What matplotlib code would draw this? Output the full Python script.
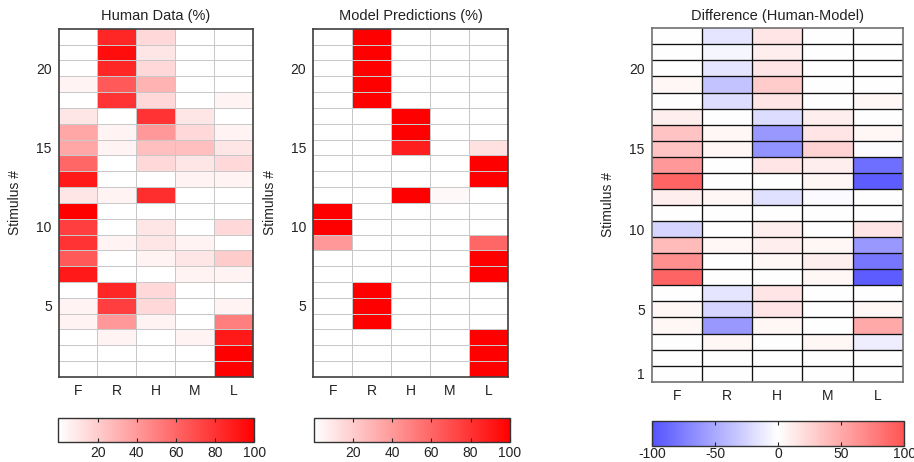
import numpy as np
import matplotlib
matplotlib.use("Agg")
import matplotlib.pyplot as plt
from matplotlib.colors import LinearSegmentedColormap

plt.rcParams['font.family'] = ['Liberation Sans', 'DejaVu Sans']
FS = 10

responses = ["F", "R", "H", "M", "L"]

# rows are stimulus 1..22, columns F R H M L (percent)
human = [
    [0, 0, 0, 0, 100],
    [0, 0, 0, 0, 100],
    [0, 5, 0, 5, 90],
    [5, 40, 5, 0, 50],
    [5, 75, 15, 0, 5],
    [0, 85, 15, 0, 0],
    [90, 0, 0, 5, 5],
    [65, 0, 5, 10, 20],
    [80, 5, 10, 5, 0],
    [75, 0, 10, 0, 15],
    [100, 0, 0, 0, 0],
    [10, 5, 82, 0, 0],
    [90, 0, 0, 5, 5],
    [60, 0, 15, 10, 15],
    [35, 5, 25, 25, 10],
    [35, 5, 40, 15, 5],
    [10, 0, 80, 10, 0],
    [0, 80, 15, 0, 5],
    [5, 65, 30, 0, 0],
    [0, 85, 15, 0, 0],
    [0, 95, 10, 0, 0],
    [0, 85, 15, 0, 0],
]

model = [
    [0, 0, 0, 0, 100],
    [0, 0, 0, 0, 100],
    [0, 0, 0, 0, 100],
    [0, 100, 0, 0, 0],
    [0, 100, 0, 0, 0],
    [0, 100, 0, 0, 0],
    [0, 0, 0, 0, 100],
    [0, 0, 0, 0, 100],
    [40, 0, 0, 0, 60],
    [100, 0, 0, 0, 0],
    [100, 0, 0, 0, 0],
    [0, 0, 100, 3, 0],
    [0, 0, 0, 0, 100],
    [0, 0, 0, 0, 100],
    [0, 0, 88, 0, 12],
    [0, 0, 100, 0, 0],
    [0, 0, 100, 0, 0],
    [0, 100, 0, 0, 0],
    [0, 100, 0, 0, 0],
    [0, 100, 0, 0, 0],
    [0, 100, 0, 0, 0],
    [0, 100, 0, 0, 0],
]

human = np.array(human, dtype=float)
model = np.array(model, dtype=float)
diff = human - model
n_stim = human.shape[0]

reds = LinearSegmentedColormap.from_list("wr", [(1, 1, 1), (1, 0, 0)])
bwr = LinearSegmentedColormap.from_list(
    "bwr2", [(0.33, 0.33, 1), (1, 1, 1), (1, 0.33, 0.33)])

fig = plt.figure(figsize=(9.14, 4.62), dpi=100)

xe = np.arange(0.5, len(responses) + 1)
ye = np.arange(0.5, n_stim + 1)


def panel(rect, data, cmap, vmin, vmax, title, edge, lw, aa, yticks, frame):
    ax = fig.add_axes(rect)
    m = ax.pcolormesh(xe, ye, data, cmap=cmap, vmin=vmin, vmax=vmax)
    # cell borders
    for y in ye[1:-1]:
        ax.axhline(y, color=edge, lw=lw, antialiased=aa)
    for x in xe[1:-1]:
        ax.axvline(x, color=edge, lw=lw, antialiased=aa)
    ax.set_xlim(0.5, len(responses) + 0.5)
    ax.set_ylim(0.5, n_stim + 0.5)
    ax.set_xticks(range(1, len(responses) + 1))
    ax.set_xticklabels(responses)
    ax.set_yticks(yticks)
    ax.tick_params(length=0, labelsize=FS, colors="#222222", pad=5)
    ax.set_title(title, fontsize=10.5, pad=6, color="#222222")
    ax.set_ylabel("Stimulus #", fontsize=FS, color="#222222", labelpad=10)
    for s in ax.spines.values():
        s.set_color(frame)
        s.set_linewidth(1.2)
    return ax, m


def cbar(rect, mesh, ticks, pad):
    cax = fig.add_axes(rect)
    cb = fig.colorbar(mesh, cax=cax, orientation="horizontal", ticks=ticks)
    cb.outline.set_edgecolor("#333333")
    cb.outline.set_linewidth(1.0)
    cax.tick_params(direction="in", length=3, top=True, bottom=True,
                    labelsize=FS, colors="#222222", pad=pad)
    cb.set_ticklabels([str(t) for t in ticks])
    return cb


ax1, m1 = panel([0.0642, 0.184, 0.2123, 0.7539], human, reds, 0, 100,
                "Human Data (%)", "#c8c8c8", 0.72, False,
                [5, 10, 15, 20], "#404040")
ax2, m2 = panel([0.3428, 0.184, 0.2135, 0.7539], model, reds, 0, 100,
                "Model Predictions (%)", "#c8c8c8", 0.72, False,
                [5, 10, 15, 20], "#404040")
ax3, m3 = panel([0.713, 0.1738, 0.275, 0.765], diff, bwr, -100, 100,
                "Difference (Human-Model)", "#111111", 0.95, True,
                [1, 5, 10, 15, 20], "#707070")

cbar([0.064, 0.0433, 0.2142, 0.052], m1, [20, 40, 60, 80, 100], 3)
cbar([0.3435, 0.0433, 0.2142, 0.052], m2, [20, 40, 60, 80, 100], 3)
cbar([0.7133, 0.0346, 0.2760, 0.054], m3, [-100, -50, 0, 50, 100], 1)

fig.savefig("out.png", dpi=100)
